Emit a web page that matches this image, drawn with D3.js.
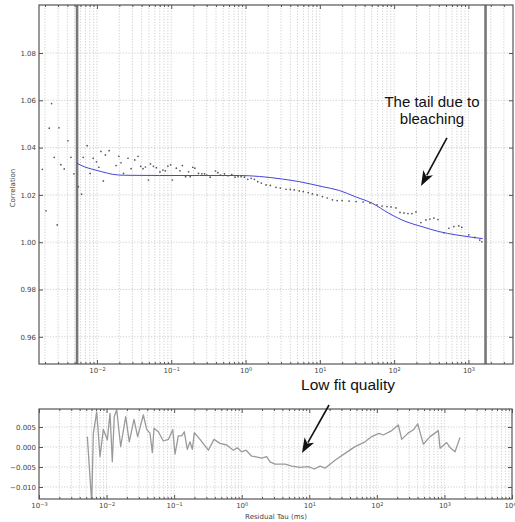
<!DOCTYPE html>
<html>
<head>
<meta charset="utf-8">
<script src="https://cdn.jsdelivr.net/npm/d3@7"></script>
<style>
body { margin: 0; background: #fff; }
svg { display: block; font-family: "DejaVu Sans", sans-serif; }
</style>
</head>
<body>
<svg width="515" height="522"></svg>
<script>
// correlation data (tau in ms)
const tauPts = [0.00184, 0.00206, 0.00228, 0.00245, 0.00266, 0.00292, 0.00308, 0.00327, 0.00363, 0.00407,
  0.00447, 0.0049, 0.00562, 0.00621, 0.00653, 0.00738, 0.00811, 0.00889, 0.00986, 0.0106,
  0.0113, 0.0122, 0.0130, 0.0146, 0.0181, 0.0197, 0.0211, 0.0228, 0.0262, 0.0288,
  0.0323, 0.0357, 0.0388, 0.0417, 0.0449, 0.0493, 0.0525, 0.0575, 0.0631, 0.0705,
  0.0773, 0.0832, 0.0902, 0.0982, 0.1035, 0.117, 0.131, 0.141, 0.156, 0.171,
  0.180, 0.195, 0.208, 0.233, 0.258, 0.281, 0.301, 0.334, 0.394, 0.424,
  0.460, 0.521, 0.577, 0.653, 0.724, 0.794, 0.871, 0.966, 1.072, 1.189,
  1.315, 1.459, 1.633, 1.888, 2.158, 2.570, 2.938, 3.508, 4.0, 4.529,
  5.284, 5.984, 6.982, 7.943, 9.226, 10.86, 12.56, 14.79, 17.1, 19.95,
  24.77, 30.76, 38.19, 47.42, 58.88, 68.71, 80.17, 90.78, 105.9, 120,
  135.8, 153.5, 173.8, 196.8, 229.6, 267.9, 303.4, 342.8, 388.2, 466.7,
  545.8, 636.8, 743, 814.7, 1012, 1219, 1422, 1514];
const corrPts = [1.0308, 1.0133, 1.0482, 1.0586, 1.0359, 1.0073, 1.0484, 1.0328, 1.0310, 1.0429,
  1.0359, 1.0289, 1.0235, 1.0203, 1.0359, 1.0408, 1.0291, 1.0355, 1.0340, 1.0317,
  1.0384, 1.0259, 1.0369, 1.0387, 1.0324, 1.0363, 1.0336, 1.0291, 1.0355, 1.0311,
  1.0348, 1.0363, 1.0321, 1.0311, 1.0318, 1.0263, 1.0331, 1.0321, 1.0315, 1.0297,
  1.0305, 1.0302, 1.0322, 1.0327, 1.0263, 1.0313, 1.0302, 1.0324, 1.0277, 1.0298,
  1.0277, 1.0317, 1.0313, 1.0291, 1.0289, 1.0289, 1.0284, 1.0275, 1.0301, 1.0294,
  1.0284, 1.0289, 1.0281, 1.0286, 1.0275, 1.0277, 1.0277, 1.0275, 1.0266, 1.0270,
  1.0266, 1.0256, 1.0250, 1.0242, 1.0240, 1.0232, 1.0229, 1.0224, 1.0223, 1.0221,
  1.0217, 1.0214, 1.0210, 1.0204, 1.0200, 1.0193, 1.0187, 1.0179, 1.0176, 1.0176,
  1.0174, 1.0172, 1.0170, 1.0166, 1.0158, 1.0153, 1.0151, 1.0149, 1.0145, 1.0126,
  1.0124, 1.0121, 1.0121, 1.0128, 1.0083, 1.0094, 1.0098, 1.0102, 1.0096, 1.0040,
  1.0059, 1.0066, 1.0069, 1.0063, 1.0031, 1.0020, 1.0009, 1.0002];

// fitted model
const fitTau = [0.00537, 0.00687, 0.00881, 0.01164, 0.01633, 0.02366, 0.0698, 0.2404, 0.828, 1.535,
  3.126, 5.284, 10.76, 18.2, 30.76, 50.47, 85.31, 144.5, 236.6, 400.9, 677.5, 1112, 1560];
const fitCorr = [1.0334, 1.0318, 1.0308, 1.0298, 1.0287, 1.0283, 1.0282, 1.0282, 1.0282, 1.0278,
  1.0267, 1.0256, 1.0235, 1.0219, 1.0191, 1.0165, 1.0122, 1.0087, 1.0066, 1.0045, 1.0031, 1.0021, 1.0015];

// residuals
const resTau = [0.00519, 0.00603, 0.00637, 0.00715, 0.0080, 0.00895, 0.01026, 0.01125, 0.01216, 0.0130,
  0.01413, 0.01618, 0.01919, 0.02168, 0.02547, 0.02884, 0.03499, 0.03926, 0.04395, 0.04753,
  0.05035, 0.05834, 0.06918, 0.08204, 0.09528, 0.103, 0.1153, 0.1294, 0.1413, 0.1567,
  0.1718, 0.1858, 0.1991, 0.2415, 0.3206, 0.389, 0.4775, 0.5998, 0.7516, 0.861,
  1.0, 1.159, 1.406, 1.574, 1.977, 2.344, 2.624, 3.112, 4.375, 5.495,
  7.295, 9.683, 11.86, 14.42, 17.1, 24.04, 33.81, 47.53, 66.83, 83.95,
  107.6, 124.7, 166, 208, 233.3, 286.4, 346.7, 402.7, 487.5, 612.4,
  812.8, 861, 1079, 1208, 1435, 1702];
const resVal = [0.0026, -0.0140, 0.0034, 0.0088, -0.0024, 0.0044, 0.0018, 0.0084, -0.0037, 0.0076,
  0.0093, 0.0001, 0.0076, 0.0013, 0.0069, 0.0026, 0.0080, 0.0044, 0.0034, -0.0014,
  0.0047, 0.0038, 0.0015, 0.0019, 0.0043, -0.0018, 0.0028, 0.0028, 0.0038, -0.0006,
  0.0013, -0.0006, 0.0036, 0.0019, -0.0008, 0.0019, 0.0009, 0.0005, -0.0008, -0.0002,
  -0.0012, -0.0008, -0.0023, -0.0024, -0.0028, -0.0024, -0.0037, -0.0043, -0.0043, -0.0048,
  -0.0051, -0.0049, -0.0055, -0.0048, -0.0053, -0.0033, -0.0016, 0.0001, 0.0013, 0.0026,
  0.0034, 0.0030, 0.0041, 0.0055, 0.0019, 0.0034, 0.0043, 0.0058, 0.0007, 0.0026,
  0.0041, -0.0003, 0.0011, -0.0001, -0.0012, 0.0024];

const fitRange = [0.0054, 1700];
const corrTicks = [0.96, 0.98, 1.00, 1.02, 1.04, 1.06, 1.08];
const resTicks = [-0.010, -0.005, 0.000, 0.005];
const topDecades = [1e-2, 1e-1, 1e0, 1e1, 1e2, 1e3];
const botDecades = [1e-3, 1e-2, 1e-1, 1e0, 1e1, 1e2, 1e3, 1e4];

const svg = d3.select("svg");

const x1 = d3.scaleLog().domain([Math.pow(10, -2.78), Math.pow(10, 3.6)]).range([39, 513]);
const y1 = d3.scaleLinear().domain([0.9485, 1.1003]).range([364, 5]);
const x2 = d3.scaleLog().domain([1e-3, 1e4]).range([39, 512]);
const y2 = d3.scaleLinear().domain([-0.013, 0.0095]).range([499, 409]);

const gridColor = "#bbb";
const axisColor = "#555";
const labelColor = "#444";

function supLabel(sel) {
    sel.each(function(d) {
        const t = d3.select(this);
        const e = Math.round(Math.log10(d));
        t.text("10");
        t.append("tspan").attr("dy", "-0.45em").attr("font-size", "5px")
            .text(String(e).replace("-", "\u2212"));
    });
}

function panel(x, y, yTicks, yFmt, decades, clipId) {
    const [xl, xr] = x.range();
    const [yb, yt] = y.range();
    const g = svg.append("g");

    svg.append("clipPath").attr("id", clipId)
        .append("rect").attr("x", xl).attr("y", yt).attr("width", xr - xl).attr("height", yb - yt);

    // grid: all log ticks vertically, major ticks horizontally
    g.selectAll(".vg").data(x.ticks().filter(v => x(v) > xl + 0.5 && x(v) < xr - 0.5))
        .join("line")
        .attr("x1", d => x(d)).attr("x2", d => x(d))
        .attr("y1", yt).attr("y2", yb)
        .attr("stroke", gridColor).attr("stroke-width", 0.7)
        .attr("stroke-dasharray", "1.2,1.6");
    g.selectAll(".hg").data(yTicks)
        .join("line")
        .attr("x1", xl).attr("x2", xr)
        .attr("y1", d => y(d)).attr("y2", d => y(d))
        .attr("stroke", gridColor).attr("stroke-width", 0.7)
        .attr("stroke-dasharray", "1.2,1.6");

    const minor = x.ticks().filter(v => !decades.includes(v));

    const styleAxis = a => {
        a.select(".domain").remove();
        a.selectAll("line").attr("stroke", axisColor);
        a.selectAll("text").attr("fill", labelColor).attr("font-size", "7px")
            .attr("font-family", "DejaVu Sans, sans-serif");
    };

    svg.append("g").attr("transform", `translate(0,${yb})`)
        .call(d3.axisBottom(x).tickValues(decades).tickSize(-4).tickPadding(4))
        .call(styleAxis)
        .call(a => a.selectAll("text").call(supLabel))
        .call(a => a.selectAll("text").filter(d => x(d) > 505).attr("text-anchor", "end").attr("dx", 4));
    svg.append("g").attr("transform", `translate(0,${yb})`)
        .call(d3.axisBottom(x).tickValues(minor).tickSize(-2).tickFormat(""))
        .call(styleAxis);
    svg.append("g").attr("transform", `translate(0,${yt})`)
        .call(d3.axisTop(x).tickValues(decades).tickSize(-4).tickFormat(""))
        .call(styleAxis);
    svg.append("g").attr("transform", `translate(0,${yt})`)
        .call(d3.axisTop(x).tickValues(minor).tickSize(-2).tickFormat(""))
        .call(styleAxis);
    svg.append("g").attr("transform", `translate(${xl},0)`)
        .call(d3.axisLeft(y).tickValues(yTicks).tickSize(-4).tickPadding(3)
            .tickFormat(d => d3.format(yFmt)(d).replace("-", "\u2212")))
        .call(styleAxis);
    svg.append("g").attr("transform", `translate(${xr},0)`)
        .call(d3.axisRight(y).tickValues(yTicks).tickSize(-4).tickFormat(""))
        .call(styleAxis);

    return g;
}

function frame(x, y) {
    const [xl, xr] = x.range();
    const [yb, yt] = y.range();
    svg.append("rect").attr("x", xl).attr("y", yt).attr("width", xr - xl).attr("height", yb - yt)
        .attr("fill", "none").attr("stroke", axisColor).attr("stroke-width", 1.2);
}

function arrow(p0, p1) {
    const dx = p1[0] - p0[0], dy = p1[1] - p0[1];
    const len = Math.hypot(dx, dy);
    const ux = dx / len, uy = dy / len;
    const hl = 15, hw = 5.5;
    const bx = p1[0] - ux * hl, by = p1[1] - uy * hl;
    svg.append("line")
        .attr("x1", p0[0]).attr("y1", p0[1]).attr("x2", bx + ux * 3).attr("y2", by + uy * 3)
        .attr("stroke", "#111").attr("stroke-width", 1.6);
    svg.append("path")
        .attr("d", `M${p1[0]},${p1[1]}L${bx - uy * hw},${by + ux * hw}L${bx + ux * 4},${by + uy * 4}L${bx + uy * hw},${by - ux * hw}Z`)
        .attr("fill", "#111");
}

// top panel
const g1 = panel(x1, y1, corrTicks, ".2f", topDecades, "clipTop");
const plot1 = g1.append("g").attr("clip-path", "url(#clipTop)");

plot1.selectAll(".fr").data(fitRange).join("line")
    .attr("x1", d => x1(d)).attr("x2", d => x1(d))
    .attr("y1", y1.range()[1]).attr("y2", y1.range()[0])
    .attr("stroke", "#777").attr("stroke-width", 2.6);

plot1.append("path")
    .datum(fitTau.map((t, i) => [t, fitCorr[i]]))
    .attr("fill", "none").attr("stroke", "#4545dd").attr("stroke-width", 1)
    .attr("d", d3.line().x(d => x1(d[0])).y(d => y1(d[1])).curve(d3.curveMonotoneX));

plot1.selectAll(".pt").data(tauPts.map((t, i) => [t, corrPts[i]])).join("circle")
    .attr("cx", d => x1(d[0])).attr("cy", d => y1(d[1])).attr("r", 0.85)
    .attr("fill", "#555");

frame(x1, y1);

svg.append("text").attr("transform", "translate(15,188) rotate(-90)")
    .attr("text-anchor", "middle").attr("font-size", "7px").attr("fill", labelColor)
    .text("Correlation");

// bottom panel
const g2 = panel(x2, y2, resTicks, ".3f", botDecades, "clipBot");
const plot2 = g2.append("g").attr("clip-path", "url(#clipBot)");

plot2.append("path")
    .datum(resTau.map((t, i) => [t, resVal[i]]))
    .attr("fill", "none").attr("stroke", "#9a9a9a").attr("stroke-width", 1.3)
    .attr("stroke-linejoin", "round")
    .attr("d", d3.line().x(d => x2(d[0])).y(d => y2(d[1])));

frame(x2, y2);

svg.append("text").attr("x", 276).attr("y", 519)
    .attr("text-anchor", "middle").attr("font-size", "7px").attr("fill", labelColor)
    .text("Residual Tau (ms)");

// annotations
const ann = svg.append("g").style("font-family", "'Liberation Sans', Arial, sans-serif")
    .attr("fill", "#111").attr("text-anchor", "middle").attr("font-size", "15px");
ann.append("text").attr("x", x1(323)).attr("y", y1(1.0572)).text("The tail due to");
ann.append("text").attr("x", x1(323)).attr("y", y1(1.0572) + 17).text("bleaching");
arrow([x1(514), y1(1.0441)], [x1(230), y1(1.0238)]);

ann.append("text").attr("x", x2(37.4)).attr("y", y2(0.01425)).attr("font-size", "15.5px")
    .text("Low fit quality");
arrow([x2(19.6), y2(0.0105)], [x2(7.8), y2(-0.0015)]);
</script>
</body>
</html>
